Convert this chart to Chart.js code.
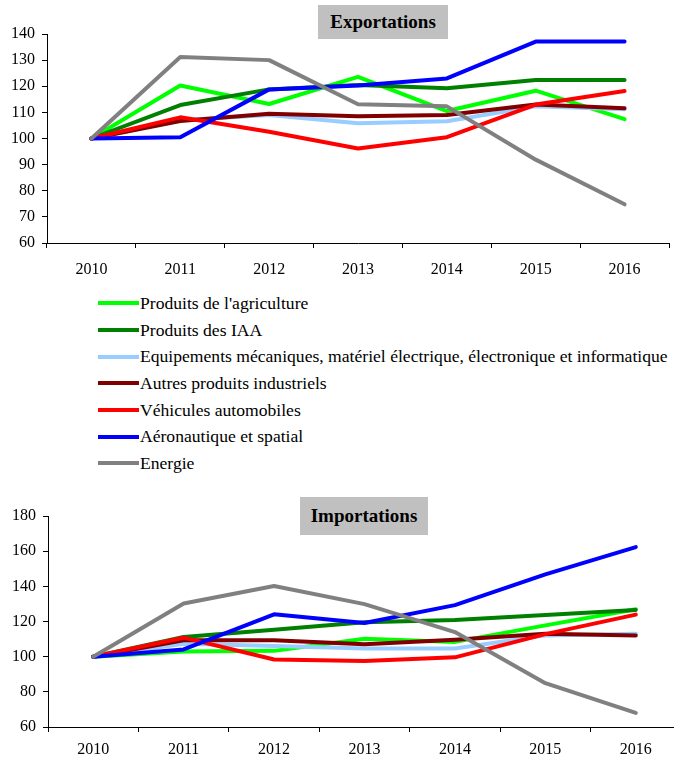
<!DOCTYPE html>
<html>
<head>
<meta charset="utf-8">
<script src="https://cdn.jsdelivr.net/npm/chart.js@4"></script>
<style>
  html, body { margin: 0; padding: 0; background: #fff; }
  body { width: 674px; height: 760px; position: relative; overflow: hidden; font-family: "Liberation Serif", "Times New Roman", serif; }
  canvas { position: absolute; }
  #exportChart { left: 0; top: 0; }
  #importChart { left: 0; top: 480px; }
  .title-box { position: absolute; background: #c0c0c0; font-weight: bold; font-size: 19px; text-align: center; line-height: 34px; }
  #legend { position: absolute; left: 98px; top: 290px; font-size: 17.6px; }
  .legend-row { height: 26.7px; display: flex; align-items: center; white-space: nowrap; }
  .legend-line { width: 41px; height: 4px; margin-right: 1px; }
</style>
</head>
<body>
<canvas id="exportChart" width="674" height="290"></canvas>
<div class="title-box" style="left:318px; top:5px; width:130px; height:34px;">Exportations</div>
<div id="legend"></div>
<canvas id="importChart" width="690" height="280"></canvas>
<div class="title-box" style="left:300px; top:497px; width:128px; height:38px; line-height:38px;">Importations</div>

<script>
// ==============================
// Data (index 2010 = 100)
// ==============================
const years = ["2010", "2011", "2012", "2013", "2014", "2015", "2016"];

const seriesNames = [
  "Produits de l'agriculture",
  "Produits des IAA",
  "Equipements mécaniques, matériel électrique, électronique et informatique",
  "Autres produits industriels",
  "Véhicules automobiles",
  "Aéronautique et spatial",
  "Energie"
];
const seriesColors = ["#00ff00", "#008000", "#99ccff", "#800000", "#ff0000", "#0000ff", "#808080"];

// Exportations
const expAgri    = [100, 120.3, 113.2, 123.6, 110.5, 118.3, 107.4];
const expIaa     = [100, 112.8, 118.8, 120.5, 119.2, 122.4, 122.4];
const expEquip   = [100, 107.0, 109.0, 105.8, 106.6, 112.3, 111.2];
const expAutres  = [100, 106.7, 109.5, 108.5, 109.0, 113.0, 111.6];
const expVehic   = [100, 108.1, 102.6, 96.2, 100.5, 113.0, 118.2];
const expAero    = [100, 100.5, 118.8, 120.3, 123.0, 137.1, 137.1];
const expEnergie = [100, 131.2, 130.0, 113.1, 112.3, 91.9, 74.8];

// Importations
const impAgri    = [100, 102.9, 103.3, 110.2, 108.4, 117.8, 127.0];
const impIaa     = [100, 111.2, 115.3, 119.6, 120.8, 123.7, 126.6];
const impEquip   = [100, 107.4, 106.1, 104.6, 104.6, 112.1, 113.0];
const impAutres  = [100, 109.3, 109.3, 107.1, 109.6, 113.0, 112.1];
const impVehic   = [100, 110.8, 98.4, 97.5, 99.6, 112.8, 123.9];
const impAero    = [100, 104.1, 124.1, 119.1, 129.3, 146.8, 162.3];
const impEnergie = [100, 130.2, 140.2, 129.9, 114.0, 84.9, 68.0];

const exportSeries = [expAgri, expIaa, expEquip, expAutres, expVehic, expAero, expEnergie];
const importSeries = [impAgri, impIaa, impEquip, impAutres, impVehic, impAero, impEnergie];

Chart.defaults.font.family = "'Liberation Serif', 'Times New Roman', serif";

// Build the datasets; later series drawn on top (lower order = drawn last)
function makeDatasets(seriesList) {
  return seriesList.map((values, i) => ({
    label: seriesNames[i],
    data: values,
    borderColor: seriesColors[i],
    backgroundColor: seriesColors[i],
    borderWidth: 4,
    pointRadius: 0,
    tension: 0,
    fill: false,
    borderJoinStyle: "round",
    borderCapStyle: "round",
    order: seriesList.length - 1 - i
  }));
}

function makeChart(canvasId, seriesList, yMin, yMax, yStep, layout) {
  const ctx = document.getElementById(canvasId).getContext("2d");
  return new Chart(ctx, {
    type: "line",
    data: { labels: years, datasets: makeDatasets(seriesList) },
    options: {
      responsive: false,
      animation: false,
      layout: { padding: { top: layout.top, right: layout.right, left: 0, bottom: 0 } },
      plugins: { legend: { display: false }, tooltip: { enabled: false } },
      scales: {
        x: {
          offset: true,
          grid: { offset: true, drawOnChartArea: false, tickLength: 5, color: "#000" },
          border: { color: "#000", width: 1 },
          ticks: { color: "#000", padding: layout.xPad, font: { size: 16 } },
          afterFit: (s) => { s.height = layout.xHeight; }
        },
        y: {
          min: yMin,
          max: yMax,
          ticks: { stepSize: yStep, color: "#000", padding: 7, font: { size: 16 } },
          grid: { drawOnChartArea: false, tickLength: 5, color: "#000" },
          border: { color: "#000", width: 1 },
          afterFit: (s) => { s.width = layout.yWidth; }
        }
      }
    }
  });
}

makeChart("exportChart", exportSeries, 60, 140, 10, { top: 34, right: 5, xHeight: 47, yWidth: 47, xPad: 12 });
makeChart("importChart", importSeries, 60, 180, 20, { top: 36, right: 9, xHeight: 33, yWidth: 48, xPad: 8 });

// ==============================
// Legend (HTML, built from the same names/colours)
// ==============================
const legend = document.getElementById("legend");
seriesNames.forEach((name, i) => {
  const row = document.createElement("div");
  row.className = "legend-row";
  row.innerHTML = `<span class="legend-line" style="background:${seriesColors[i]}"></span><span>${name}</span>`;
  legend.appendChild(row);
});
</script>
</body>
</html>
